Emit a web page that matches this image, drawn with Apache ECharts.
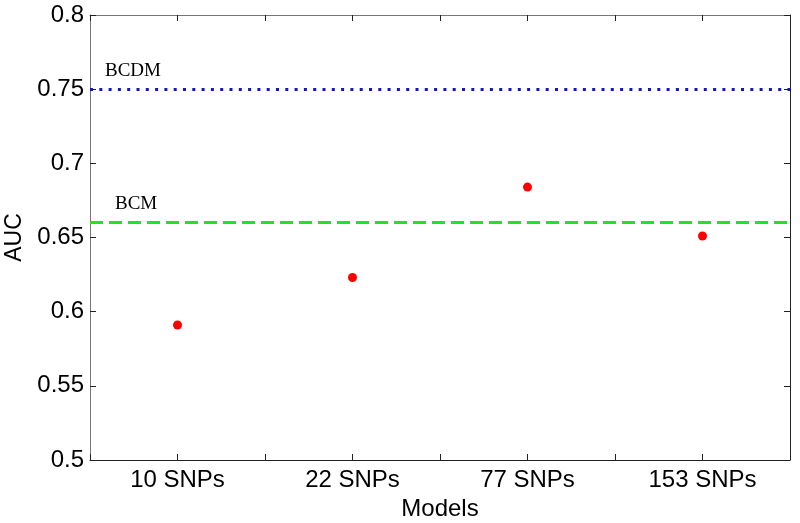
<!DOCTYPE html>
<html>
<head>
<meta charset="utf-8">
<script src="https://cdn.jsdelivr.net/npm/echarts@6/dist/echarts.min.js"></script>
<style>
  html, body { margin: 0; padding: 0; background: #fff; }
  #chart { width: 800px; height: 523px; }
</style>
</head>
<body>
<div id="chart"></div>
<script>
// data
var models = ['10 SNPs', '22 SNPs', '77 SNPs', '153 SNPs'];
var aucValues = [0.591, 0.623, 0.684, 0.651];
var refNames = ['BCDM', 'BCM'];
var refValues = [0.751, 0.660];

var points = aucValues.map(function (v, i) { return [i + 1, v]; });

var font = 'Arial, "Liberation Sans", sans-serif';
var chart = echarts.init(document.getElementById('chart'));

function xLabel(v) {
  var i = Math.round(v);
  if (Math.abs(v - i) > 1e-6) return '';
  return models[i - 1] || '';
}

chart.setOption({
  animation: false,
  grid: { left: 90, right: 10, top: 15, bottom: 63, containLabel: false, outerBoundsMode: 'none' },
  xAxis: [{
    type: 'value', min: 0.5, max: 4.5, interval: 0.5,
    name: 'Models', nameLocation: 'middle', nameGap: 36,
    nameTextStyle: { fontFamily: font, fontSize: 24, color: '#000' },
    axisLine: { lineStyle: { color: '#222', width: 1 } },
    axisTick: { inside: true, length: 6, lineStyle: { color: '#222' } },
    axisLabel: { formatter: xLabel, fontFamily: font, fontSize: 24, color: '#000', margin: 8 },
    splitLine: { show: false }
  }, {
    type: 'value', position: 'top', min: 0.5, max: 4.5, interval: 0.5,
    axisLine: { onZero: false, lineStyle: { color: '#777' } },
    axisTick: { inside: true, length: 6, lineStyle: { color: '#222' } },
    axisLabel: { show: false },
    splitLine: { show: false }
  }],
  yAxis: [{
    type: 'value', min: 0.5, max: 0.8, interval: 0.05,
    name: 'AUC', nameLocation: 'middle', nameGap: 61, nameRotate: 90,
    nameTextStyle: { fontFamily: font, fontSize: 23, color: '#000' },
    axisLine: { show: true, lineStyle: { color: '#777' } },
    axisTick: { show: true, inside: true, length: 6, lineStyle: { color: '#222' } },
    axisLabel: { fontFamily: font, fontSize: 24, color: '#000', margin: 6 },
    splitLine: { show: false }
  }, {
    type: 'value', position: 'right', min: 0.5, max: 0.8, interval: 0.05,
    axisLine: { show: true, onZero: false, lineStyle: { color: '#222' } },
    axisTick: { show: true, inside: true, length: 6, lineStyle: { color: '#222' } },
    axisLabel: { show: false },
    splitLine: { show: false }
  }],
  series: [{
    type: 'scatter',
    data: points,
    symbolSize: 9,
    itemStyle: { color: '#ff0000', opacity: 1 },
    markLine: {
      silent: true,
      symbol: 'none',
      data: [{
        yAxis: refValues[0], name: refNames[0],
        lineStyle: { color: '#1414c8', width: 3, type: [3, 6.3] },
        label: { distance: [15, 9] }
      }, {
        yAxis: refValues[1], name: refNames[1],
        lineStyle: { color: '#1ee61e', width: 3, type: [13, 6] },
        label: { distance: [25, 9] }
      }],
      label: {
        position: 'insideStartTop',
        formatter: '{b}',
        fontFamily: '"Liberation Serif", "DejaVu Serif", serif',
        fontSize: 19,
        color: '#000'
      }
    }
  }]
});
</script>
</body>
</html>
